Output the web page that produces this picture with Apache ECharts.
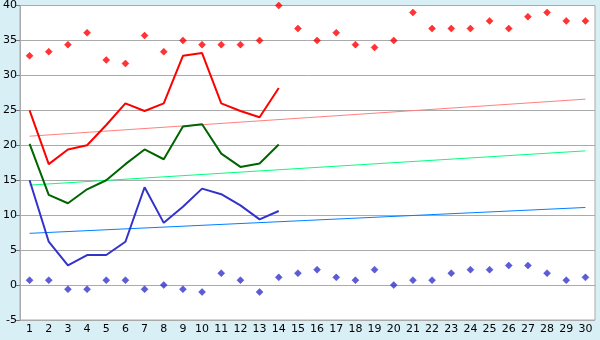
<!DOCTYPE html>
<html><head><meta charset="utf-8">
<script src="https://cdn.jsdelivr.net/npm/echarts@6/dist/echarts.min.js"></script>
<style>html,body{margin:0;padding:0;background:#D9EFF6;}#c{width:600px;height:340px;}</style>
</head><body><div id="c"></div>
<script>
var days = [];
for (var i = 1; i <= 30; i++) days.push(String(i));
var maxTemps = [32.8,33.4,34.4,36.1,32.2,31.7,35.7,33.4,35.0,34.4,34.4,34.4,35.0,40.0,36.7,35.0,36.1,34.4,34.0,35.0,39.0,36.7,36.7,36.7,37.8,36.7,38.4,39.0,37.8,37.8];
var minTemps = [0.7,0.7,-0.6,-0.6,0.7,0.7,-0.6,0.0,-0.6,-1.0,1.7,0.7,-1.0,1.1,1.7,2.2,1.1,0.7,2.2,0.0,0.7,0.7,1.7,2.2,2.2,2.8,2.8,1.7,0.7,1.1];
var redLine = [25.0,17.3,19.4,20.0,22.9,26.0,24.9,26.0,32.8,33.2,26.0,24.9,24.0,28.2];
var greenLine = [20.2,12.9,11.7,13.7,15.0,17.3,19.4,18.0,22.7,23.0,18.8,16.9,17.4,20.1];
var blueLine = [15.0,6.2,2.8,4.3,4.3,6.2,14.0,8.9,11.2,13.8,13.0,11.4,9.4,10.6];
var redTrend = [21.3, 26.6];
var greenTrend = [14.3, 19.2];
var blueTrend = [7.4, 11.1];
var yTicks = {min: -5, max: 40, interval: 5};

function trend(ends) {
  var d = [];
  for (var i = 0; i < days.length; i++) d.push(null);
  d[0] = ends[0]; d[days.length - 1] = ends[1];
  return d;
}
var chart = echarts.init(document.getElementById('c'));
var font = 'DejaVu Sans';
chart.setOption({
  backgroundColor: '#D9EFF6',
  animation: false,
  grid: {left: 20, right: 5, top: 5, bottom: 20, show: true, backgroundColor: '#ffffff', borderColor: '#AAAAAA', borderWidth: 1},
  xAxis: {
    type: 'category', data: days, boundaryGap: true,
    axisLine: {lineStyle: {color: '#AAAAAA'}},
    axisTick: {alignWithLabel: true, length: 4, lineStyle: {color: '#777777'}},
    axisLabel: {color: '#000', fontFamily: font, fontSize: 11, margin: 4, interval: 0},
    splitLine: {show: false}
  },
  yAxis: {
    type: 'value', min: yTicks.min, max: yTicks.max, interval: yTicks.interval,
    axisLine: {show: true, lineStyle: {color: '#AAAAAA'}},
    axisTick: {show: true, length: 4, lineStyle: {color: '#777777'}},
    axisLabel: {color: '#000', fontFamily: font, fontSize: 11, margin: 3},
    splitLine: {lineStyle: {color: '#AAAAAA', width: 1}}
  },
  series: [
    {type: 'line', data: trend(redTrend), connectNulls: true, showSymbol: false, symbol: 'none', lineStyle: {color: '#FF8080', width: 1}, z: 2},
    {type: 'line', data: trend(greenTrend), connectNulls: true, showSymbol: false, symbol: 'none', lineStyle: {color: '#00FF80', width: 1}, z: 2},
    {type: 'line', data: trend(blueTrend), connectNulls: true, showSymbol: false, symbol: 'none', lineStyle: {color: '#0080FF', width: 1}, z: 2},
    {type: 'line', data: redLine, symbol: 'none', lineStyle: {color: '#FF0000', width: 2}, z: 3},
    {type: 'line', data: greenLine, symbol: 'none', lineStyle: {color: '#006400', width: 2}, z: 3},
    {type: 'line', data: blueLine, symbol: 'none', lineStyle: {color: '#3333CC', width: 2}, z: 3},
    {type: 'scatter', data: maxTemps, symbol: 'diamond', symbolSize: 7, itemStyle: {color: '#FF0000', borderColor: '#FF0000', borderWidth: 0.5}, z: 4},
    {type: 'scatter', data: minTemps, symbol: 'diamond', symbolSize: 7, itemStyle: {color: '#3333CC', borderColor: '#3333CC', borderWidth: 0.5}, z: 4}
  ]
});
</script></body></html>
